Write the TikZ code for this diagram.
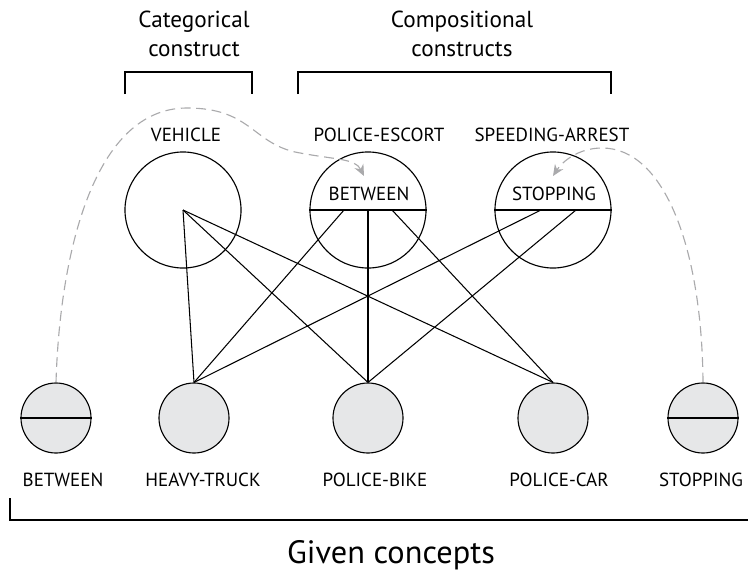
\documentclass[tikz,border=0pt]{standalone}
\usepackage{fontspec}
\setmainfont{PT Sans}
\usetikzlibrary{arrows.meta}
\definecolor{conceptgray}{RGB}{230,231,232}
\definecolor{linkgray}{RGB}{170,170,172}

\tikzset{
  construct/.style={draw, circle, line width=0.8pt, minimum size=2.9cm, inner sep=0pt},
  given/.style={draw, circle, line width=0.8pt, fill=conceptgray, minimum size=1.75cm, inner sep=0pt},
  lbl/.style={font=\fontsize{13.5}{16}\selectfont, inner sep=0pt},
  ttl/.style={font=\fontsize{16.5}{20.6}\selectfont, align=center, inner sep=0pt},
  link/.style={line width=0.75pt},
  reuse/.style={linkgray, line width=0.8pt, dash pattern=on 7pt off 4pt, -{Stealth[length=8pt,width=7pt]}}
}

\begin{document}
\begin{tikzpicture}[x=0.025cm,y=-0.025cm]
		\useasboundingbox (0,0) rectangle (748,579);
		% headings and brackets
		\node[ttl] (cattitle) at (194,34) {Categorical\\construct};
		\node[ttl] (comptitle) at (462,34) {Compositional\\constructs};
		\draw [line width=0.9pt] (125,94) |- (252,72) -- (252,94);
		\draw [line width=0.9pt] (298,94) |- (611,72) -- (611,94);
		% constructs
		\node[construct] (vehicle) at (183,210) {};
		\node[construct] (escort) at (368,210) {};
		\node[construct] (arrest) at (553,210) {};
		\draw [line width=0.9pt] (escort.west) -- (escort.east);
		\draw [line width=0.9pt] (arrest.west) -- (arrest.east);
		\node[lbl] (vehiclelbl) at (186,135) {VEHICLE};
		\node[lbl] (escortlbl) at (379,135) {POLICE-ESCORT};
		\node[lbl] (arrestlbl) at (552,135) {SPEEDING-ARREST};
		\node[lbl] (escortin) at (369,194) {BETWEEN};
		\node[lbl] (arrestin) at (554,194) {STOPPING};
		\coordinate (e1) at (344,210);
		\coordinate (e2) at (368,210);
		\coordinate (e3) at (392,210);
		\coordinate (s1) at (541,210);
		\coordinate (s2) at (576,210);
		% given concepts
		\node[given] (between) at (56,418) {};
		\node[given] (truck) at (194,418) {};
		\node[given] (bike) at (368,418) {};
		\node[given] (car) at (553,418) {};
		\node[given] (stopping) at (703,418) {};
		\draw [line width=0.9pt] (between.west) -- (between.east);
		\draw [line width=0.9pt] (stopping.west) -- (stopping.east);
		\node[lbl] (betweenlbl) at (63,480) {BETWEEN};
		\node[lbl] (trucklbl) at (203,480) {HEAVY-TRUCK};
		\node[lbl] (bikelbl) at (375,480) {POLICE-BIKE};
		\node[lbl] (carlbl) at (559,480) {POLICE-CAR};
		\node[lbl] (stoppinglbl) at (701,480) {STOPPING};
		\draw [line width=0.9pt] (10,498) |- (748,520);
		\node[font=\fontsize{23}{28}\selectfont, inner sep=0pt] (giventitle) at (391,555) {Given concepts};
		% links
		\draw [link] (vehicle.center) -- (truck.north);
		\draw [link] (vehicle.center) -- (bike.north);
		\draw [link] (vehicle.center) -- (car.north);
		\draw [link] (e1) -- (truck.north);
		\draw [link] (e2) -- (bike.north);
		\draw [link] (e3) -- (car.north);
		\draw [link] (s1) -- (truck.north);
		\draw [link] (s2) -- (bike.north);
		% reused concepts
		\coordinate (etip) at (364,176);
		\coordinate (stip) at (553,176);
		\draw [reuse] (between.north) .. controls (60,250) and (95,108) .. (187,108) .. controls (250,108) and (252,142) .. (295,152) .. controls (335,160) and (355,158) .. (etip);
		\draw [reuse] (stopping.north) .. controls (702,250) and (665,148) .. (602,148) .. controls (578,148) and (562,162) .. (stip);
\end{tikzpicture}
\end{document}
